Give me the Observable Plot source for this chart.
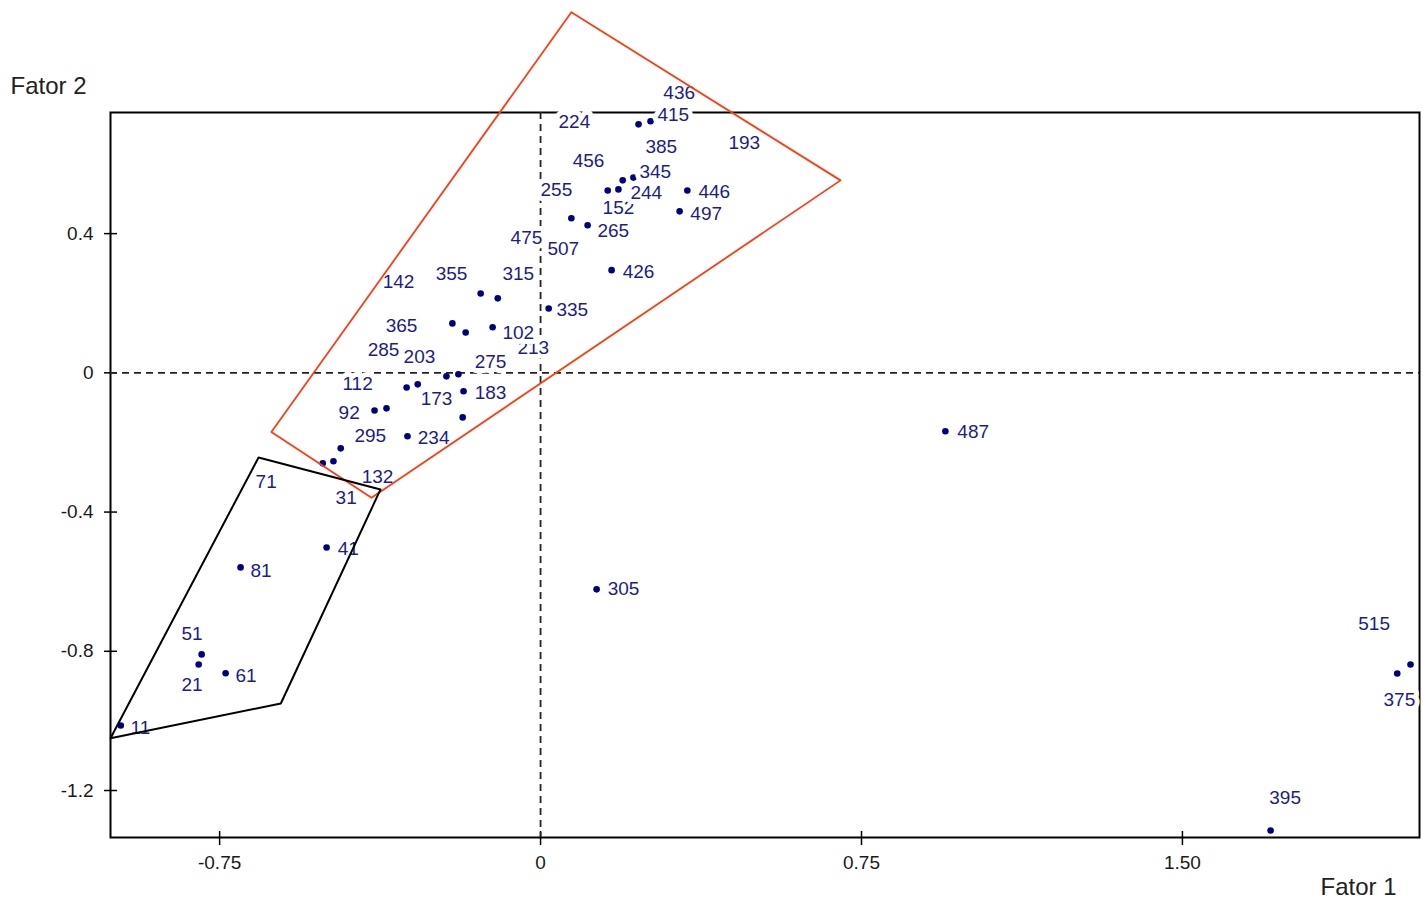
<!DOCTYPE html>
<html>
<head>
<meta charset="utf-8">
<script src="https://cdn.jsdelivr.net/npm/d3@7"></script>
<script src="https://cdn.jsdelivr.net/npm/@observablehq/plot@0.6"></script>
<style>
  html, body { margin: 0; padding: 0; background: #ffffff; }
  #chart svg { display: block; }
</style>
</head>
<body>
<div id="chart"></div>
<script>
// ---- Data ----
const obsId = ["11","21","51","61","81","41","71","31","132","295","234","92","285","112","173","183","203","275","213","365","102","142","355","315","335","426","475","507","265","255","152","497","446","244","345","456","385","193","224","436","415","487","305","395","515","375"];

const fator1 = [-0.981,-0.799,-0.792,-0.736,-0.701,-0.500,-0.509,-0.182,-0.484,-0.467,-0.311,-0.388,-0.360,-0.313,-0.287,-0.180,-0.220,-0.192,-0.175,-0.206,-0.112,-0.332,-0.140,-0.100,0.019,0.166,-0.030,0.051,0.110,0.072,0.157,0.325,0.343,0.182,0.217,0.112,0.192,0.479,0.229,0.308,0.257,0.946,0.131,1.706,2.033,2.002];

const fator2 = [-1.013,-0.838,-0.809,-0.863,-0.559,-0.502,-0.260,-0.128,-0.254,-0.217,-0.182,-0.108,-0.102,-0.042,-0.033,-0.053,-0.010,-0.004,0.116,0.142,0.131,0.260,0.228,0.214,0.185,0.295,0.389,0.355,0.424,0.444,0.524,0.464,0.524,0.527,0.561,0.608,0.553,0.662,0.714,0.734,0.723,-0.168,-0.622,-1.315,-0.838,-0.864];

// label anchor (left edge, vertical middle) in data units
const labelFator1 = [-0.958,-0.839,-0.839,-0.713,-0.678,-0.474,-0.666,-0.479,-0.418,-0.435,-0.287,-0.472,-0.404,-0.463,-0.280,-0.154,-0.320,-0.154,-0.054,-0.362,-0.089,-0.369,-0.245,-0.089,0.037,0.192,-0.070,0.016,0.133,0.000,0.145,0.350,0.369,0.210,0.231,0.075,0.245,0.439,0.042,0.287,0.273,0.974,0.157,1.703,1.911,1.970];
const labelFator2 = [-1.019,-0.898,-0.749,-0.872,-0.568,-0.507,-0.312,-0.358,-0.300,-0.180,-0.188,-0.114,0.065,-0.033,-0.076,-0.059,0.045,0.030,0.073,0.134,0.116,0.260,0.283,0.283,0.180,0.289,0.389,0.355,0.409,0.527,0.473,0.458,0.519,0.516,0.576,0.608,0.648,0.662,0.720,0.803,0.740,-0.171,-0.622,-1.220,-0.720,-0.941];

// group outlines
const redHullF1 = [0.072, 0.701, -0.395, -0.629];
const redHullF2 = [1.036, 0.553, -0.359, -0.170];
const blackHullF1 = [-0.659, -0.374, -0.607, -1.005];
const blackHullF2 = [-0.243, -0.335, -0.950, -1.050];

// axes
const xTicks = [-0.75, 0, 0.75, 1.5];
const xTickLabels = ["-0.75", "0", "0.75", "1.50"];
const yTicks = [0.4, 0, -0.4, -0.8, -1.2];
const yTickLabels = ["0.4", "0", "-0.4", "-0.8", "-1.2"];
const xTitle = "Fator 1";
const yTitle = "Fator 2";

// ---- Build tables ----
const points = obsId.map((id, i) => ({id, f1: fator1[i], f2: fator2[i], lf1: labelFator1[i], lf2: labelFator2[i]}));
const closed = (a, b) => a.map((v, i) => ({f1: v, f2: b[i]})).concat([{f1: a[0], f2: b[0]}]);
const redHull = closed(redHullF1, redHullF2);
const blackHull = closed(blackHullF1, blackHullF2);

const W = 1423, H = 901;
const mL = 110, mR = 4, mT = 112, mB = 64;
const innerW = W - mL - mR, innerH = H - mT - mB;

const chart = Plot.plot({
  width: W,
  height: H,
  marginLeft: mL,
  marginRight: mR,
  marginTop: mT,
  marginBottom: mB,
  style: {fontFamily: "'Liberation Sans', Arial, sans-serif", fontSize: "19px", background: "#ffffff", color: "#1a1a1a"},
  x: {domain: [-1.005, 2.054], ticks: xTicks, tickFormat: d => xTickLabels[xTicks.indexOf(d)], tickSize: 0, tickPadding: 18, label: null},
  y: {domain: [-1.335, 0.748], ticks: yTicks, tickFormat: d => yTickLabels[yTicks.indexOf(d)], tickSize: 0, tickPadding: 17, label: null},
  marks: [
    Plot.frame({stroke: "#000", strokeWidth: 2}),
    Plot.tickX(xTicks, {x: d => d, stroke: "#000", strokeWidth: 1.5, insetTop: innerH - 6, insetBottom: -8}),
    Plot.tickY(yTicks, {y: d => d, stroke: "#000", strokeWidth: 1.5, insetLeft: -6, insetRight: innerW - 7}),
    Plot.ruleX([0], {stroke: "#222", strokeWidth: 1.8, strokeDasharray: "7,5"}),
    Plot.ruleY([0], {stroke: "#222", strokeWidth: 1.8, strokeDasharray: "7,5"}),
    Plot.dot(points, {x: "f1", y: "f2", r: 3.3, fill: "#000080", stroke: null}),
    Plot.text(points, {x: "lf1", y: "lf2", text: "id", textAnchor: "start", fontSize: 19,
      fill: "#1c1c8c", stroke: "#ffffff", strokeWidth: 10, strokeLinejoin: "round", paintOrder: "stroke"}),
    Plot.line(redHull, {x: "f1", y: "f2", stroke: "#ff3c14", strokeWidth: 1.8}),
    Plot.line(blackHull, {x: "f1", y: "f2", stroke: "#000", strokeWidth: 2}),
    Plot.text([yTitle], {frameAnchor: "top-left", lineAnchor: "middle", dx: -100, dy: -26, textAnchor: "start", fontSize: 24, fill: "#222"}),
    Plot.text([xTitle], {frameAnchor: "bottom-right", lineAnchor: "middle", dx: -23, dy: 50, textAnchor: "end", fontSize: 24, fill: "#222"})
  ]
});
document.getElementById("chart").appendChild(chart);
</script>
</body>
</html>
